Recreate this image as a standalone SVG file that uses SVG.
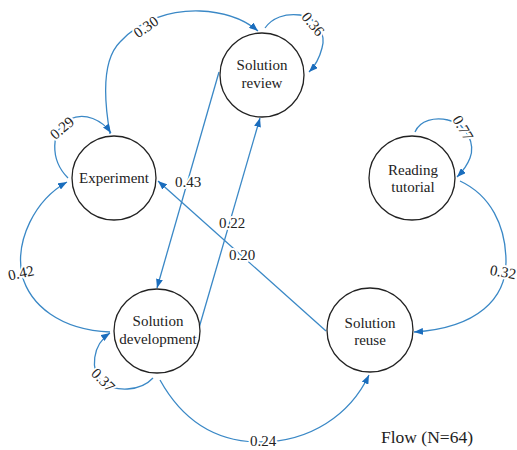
<svg xmlns="http://www.w3.org/2000/svg" width="517" height="450" viewBox="0 0 517 450">
<defs>
<marker id="ah" viewBox="0 0 9 7" refX="9" refY="3.5" markerWidth="9" markerHeight="7" markerUnits="userSpaceOnUse" orient="auto">
<path d="M0,0 L9,3.5 L0,7 z" fill="#1a6dbd"/>
</marker>
<style>
.e{fill:none;stroke:#3a88c6;stroke-width:1.3}
.a{marker-end:url(#ah)}
.n{fill:#fff;stroke:#222;stroke-width:1.3}
.t{font-family:"Liberation Serif","Times New Roman",serif;font-size:15px;fill:#222;text-anchor:middle}
.l{font-family:"Liberation Serif","Times New Roman",serif;font-size:15px;fill:#222;text-anchor:middle;stroke:#fff;stroke-width:4;paint-order:stroke;stroke-linejoin:round}
</style>
</defs>
<rect width="517" height="450" fill="#fff"/>
<g id="connectors">
<path class="e a" d="M110 134 C104 100,102 60,120 42 C140 20,170 10,200 11 C225 12,245 20,258 31"/>
<path class="e a" d="M68 178 C50 160,50 130,70 119 C85 112,102 120,111 133"/>
<path class="e a" d="M110 332 C60 330,30 305,22 275 C15 240,35 200,67 182"/>
<path class="e a" d="M153 378 C140 392,115 392,102 382 C90 370,92 345,110 333"/>
<path class="e a" d="M160 380 C185 425,220 442,260 442 C310 442,350 415,369 375"/>
<path class="e a" d="M265 28 C272 18,285 13,300 15 C318 18,326 35,322 48 C319 60,314 67,309 72"/>
<path class="e a" d="M415 132 C420 120,435 117,448 120 C468 124,475 145,470 158 C467 166,462 172,457 177"/>
<path class="e a" d="M460 181 C490 195,506 225,506 262 C506 298,478 328,414 332"/>
<path class="e a" d="M219 72 L157 288"/>
<path class="e a" d="M199 328 L260 118"/>
<path class="e a" d="M326 331 L158 181"/>
<text class="l" x="188" y="187">0.43</text>
<text class="l" x="232" y="228">0.22</text>
<text class="l" x="242" y="260">0.20</text>
<text class="l" x="263" y="446">0.24</text>
<text class="l" transform="translate(21,273) rotate(-12)" y="5">0.42</text>
<text class="l" transform="translate(146,27) rotate(-35)" y="5">0.30</text>
<text class="l" transform="translate(62,128) rotate(-40)" y="5">0.29</text>
<text class="l" transform="translate(313,24) rotate(50)" y="5">0.36</text>
<text class="l" transform="translate(463,128) rotate(60)" y="5">0.77</text>
<text class="l" transform="translate(103,380) rotate(45)" y="5">0.37</text>
<text class="l" transform="translate(503,272) rotate(10)" y="5">0.32</text>
</g>
<g id="node-solution-review">
<ellipse class="n" cx="262" cy="75" rx="42" ry="42"/>
<text class="t" x="262" y="70">Solution</text>
<text class="t" x="262" y="88">review</text>
</g>
<g id="node-experiment">
<ellipse class="n" cx="114" cy="178" rx="42" ry="42"/>
<text class="t" x="114" y="183">Experiment</text>
</g>
<g id="node-reading-tutorial">
<ellipse class="n" cx="412" cy="178" rx="43" ry="42"/>
<text class="t" x="413" y="175">Reading</text>
<text class="t" x="413" y="192">tutorial</text>
</g>
<g id="node-solution-development">
<ellipse class="n" cx="157" cy="331" rx="43" ry="42"/>
<text class="t" x="158" y="326">Solution</text>
<text class="t" x="158" y="344">development</text>
</g>
<g id="node-solution-reuse">
<ellipse class="n" cx="370" cy="330" rx="43" ry="42"/>
<text class="t" x="370" y="328">Solution</text>
<text class="t" x="370" y="345">reuse</text>
</g>
<text class="t" x="427" y="443" style="font-size:17.5px">Flow (N=64)</text>
</svg>
